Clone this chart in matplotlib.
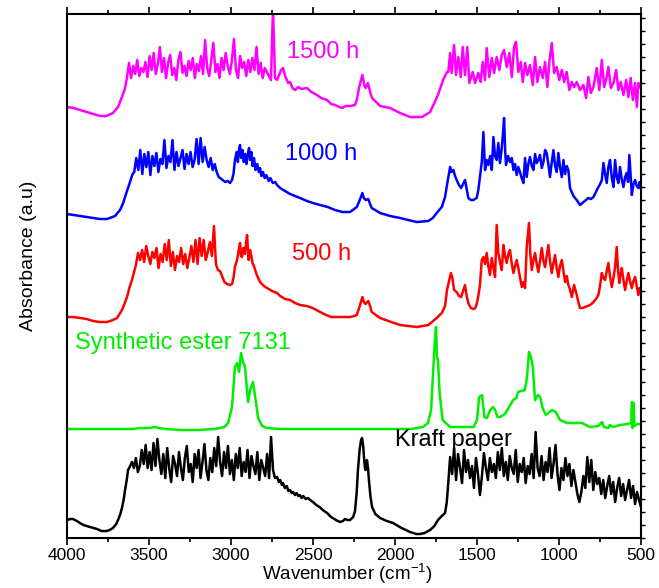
import matplotlib
matplotlib.use("Agg")
import matplotlib.pyplot as plt
import numpy as np
from matplotlib.ticker import MultipleLocator, NullFormatter

# FTIR spectra of kraft paper aged in synthetic ester 7131.
# Each trace: read (wavenumber, absorbance) points plus dense bands over the
# noisy regions (band = start wn, end wn, absorbance values evenly spaced).

KRAFT_POINTS = [
    (4000, 18), (3980, 19), (3963, 19), (3940, 17), (3921, 15), (3900, 13), (3860, 11),
    (3817, 9), (3790, 7), (3760, 7), (3740, 8), (3720, 10), (3700, 14), (3689, 18),
    (3675, 24), (3665, 30), (3655, 38), (3646, 48), (3636, 58), (3628, 68), (3615, 72),
    (2719, 61), (2708, 56), (2700, 58), (2690, 53), (2683, 55), (2672, 50), (2660, 52),
    (2650, 47), (2640, 48), (2630, 45), (2622, 46), (2610, 43), (2600, 45), (2590, 42),
    (2580, 43), (2570, 40), (2560, 42), (2545, 39), (2530, 40), (2518, 38), (2500, 36),
    (2480, 33), (2460, 31), (2440, 28), (2414, 25), (2390, 21), (2360, 18), (2335, 16),
    (2318, 17), (2305, 19), (2290, 18), (2274, 18), (2255, 21), (2244, 27), (2234, 45),
    (2226, 68), (2216, 88), (2207, 98), (2201, 100), (2194, 92), (2189, 80), (2183, 70),
    (2180, 68), (2175, 74), (2171, 78), (2165, 70), (2158, 56), (2150, 42), (2140, 31),
    (2120, 24), (2091, 20), (2050, 17), (2012, 15), (1960, 10), (1908, 6), (1870, 4),
    (1847, 4), (1820, 5), (1786, 8), (1760, 12), (1738, 18), (1715, 22), (1695, 25),
    (1685, 35), (1677, 51),
]
KRAFT_BANDS = [
    (3604, 2732, [76, 70, 80, 66, 72, 88, 74, 93, 70, 86, 68, 95, 72, 99, 78, 64, 84, 60,
                  90, 70, 56, 82, 74, 62, 86, 70, 58, 80, 92, 66, 74, 56, 84, 70, 88, 60,
                  76, 94, 68, 58, 80, 66, 90, 72, 101, 76, 62, 86, 70, 92, 64, 78, 58, 84,
                  70, 90, 62, 76, 66, 88, 60, 82, 72, 64, 86, 58, 78, 70, 62, 84, 60, 101,
                  68, 60]),
    (1664, 500, [81, 64, 90, 58, 84, 70, 55, 88, 66, 78, 60, 72, 50, 80, 64, 43, 62, 85,
                 70, 58, 80, 66, 74, 60, 86, 68, 90, 62, 76, 58, 82, 70, 64, 88, 56, 74,
                 66, 80, 55, 72, 64, 84, 60, 106, 70, 62, 82, 58, 76, 66, 90, 60, 74, 93,
                 64, 48, 70, 58, 80, 62, 74, 52, 68, 56, 44, 36, 46, 62, 50, 81, 56, 78,
                 48, 66, 54, 60, 44, 58, 40, 52, 62, 44, 56, 36, 50, 60, 42, 54, 38, 48,
                 58, 40, 52, 34, 46, 38, 31]),
]

ESTER_POINTS = [
    (4000, 1), (3800, 1), (3600, 1), (3555, 2), (3500, 2), (3463, 3), (3440, 2), (3400, 1),
    (3300, 0), (3200, 0), (3100, 1), (3040, 3), (3018, 7), (2994, 23), (2976, 63),
    (2963, 67), (2951, 58), (2939, 77), (2927, 68), (2915, 63), (2896, 28), (2884, 40),
    (2866, 48), (2850, 30), (2835, 12), (2810, 4), (2780, 2), (2700, 1), (2500, 1),
    (2300, 1), (2100, 1), (1900, 1), (1830, 3), (1799, 7), (1780, 20), (1768, 57),
    (1756, 93), (1750, 103), (1744, 73), (1738, 70), (1728, 37), (1710, 10), (1664, 3),
    (1520, 3), (1500, 10), (1487, 33), (1469, 35), (1455, 13), (1440, 12), (1420, 20),
    (1402, 23), (1390, 20), (1375, 13), (1360, 13), (1330, 16), (1300, 24), (1280, 30),
    (1260, 32), (1250, 38), (1230, 39), (1208, 40), (1195, 53), (1183, 78), (1171, 73),
    (1160, 63), (1146, 30), (1128, 35), (1115, 33), (1100, 22), (1080, 15), (1043, 20),
    (1020, 18), (994, 10), (950, 7), (860, 7), (811, 3), (760, 4), (738, 8), (725, 3),
    (700, 2), (690, 5), (670, 3), (630, 5), (580, 6), (560, 7), (555, 28), (552, 2),
    (545, 27), (540, 4), (520, 6), (500, 6),
]

AGED_500_POINTS = [
    (4000, 9), (3960, 9), (3921, 8), (3880, 7), (3841, 5), (3800, 4), (3756, 4), (3720, 6),
    (3695, 8), (3680, 12), (3665, 16), (3650, 22), (3634, 29), (3620, 38), (3604, 46),
    (3590, 55), (3580, 61),
    (3092, 62), (3080, 56), (3067, 55), (3055, 50), (3040, 44), (3025, 42), (3006, 41),
    (2994, 42), (2985, 48), (2975, 60), (2963, 66), (2955, 74), (2945, 83), (2939, 70),
    (2933, 69), (2925, 78), (2915, 72), (2908, 84), (2902, 91), (2896, 75), (2893, 66),
    (2888, 72), (2884, 76), (2876, 70), (2869, 63), (2860, 60), (2853, 56), (2840, 50),
    (2823, 44), (2800, 40), (2780, 38), (2750, 35), (2719, 33), (2700, 30), (2670, 27),
    (2640, 26), (2610, 23), (2579, 21), (2540, 20), (2518, 19), (2490, 17), (2457, 14),
    (2420, 11), (2390, 9), (2340, 9), (2300, 9), (2274, 9), (2250, 10), (2233, 11),
    (2215, 20), (2199, 29), (2190, 24), (2180, 22), (2163, 25), (2152, 20), (2142, 14),
    (2091, 8), (2040, 5), (1969, 1), (1867, -1), (1797, 1), (1746, 8), (1715, 13),
    (1695, 20), (1683, 36), (1659, 53), (1650, 48), (1640, 36), (1624, 34), (1610, 30),
    (1597, 29), (1585, 35), (1573, 41), (1563, 30), (1553, 23), (1538, 18), (1522, 17),
    (1510, 18), (1502, 22), (1492, 30), (1482, 41),
    (1471, 66), (1461, 69), (1451, 62), (1441, 73), (1431, 60), (1421, 51), (1410, 68),
    (1400, 58), (1390, 49), (1380, 101), (1370, 73), (1360, 64), (1349, 56), (1339, 81),
    (1329, 70), (1319, 63), (1309, 72), (1299, 76), (1288, 62), (1278, 53), (1268, 60),
    (1258, 66), (1248, 58), (1238, 49), (1227, 39), (1217, 44), (1207, 38), (1197, 79),
    (1183, 103), (1175, 72), (1166, 56), (1156, 66), (1146, 73), (1136, 62), (1126, 54),
    (1115, 66), (1105, 78), (1095, 65), (1085, 59), (1075, 70), (1065, 81), (1054, 64),
    (1044, 53), (1034, 63), (1024, 71), (1014, 58), (1004, 49), (994, 60), (983, 66),
    (973, 55), (963, 44), (953, 50), (943, 41), (932, 36), (922, 29), (915, 35), (908, 41),
    (900, 36), (892, 31), (882, 24), (872, 18), (856, 18), (841, 19), (826, 20), (811, 21),
    (795, 23), (780, 26), (770, 28), (760, 31), (750, 40), (739, 53), (729, 48), (719, 46),
    (709, 55), (699, 63), (689, 50), (678, 39), (668, 48), (658, 59), (648, 79), (640, 55),
    (632, 43), (625, 52), (617, 58), (607, 46), (597, 36), (587, 45), (577, 53), (566, 44),
    (556, 38), (546, 45), (536, 49), (526, 40), (516, 31), (508, 38), (500, 34),
]
AGED_500_BANDS = [
    (3567, 3104, [73, 66, 76, 64, 80, 70, 62, 74, 68, 78, 58, 72, 64, 82, 66, 86, 60, 74,
                  56, 70, 64, 78, 62, 72, 58, 68, 80, 64, 86, 62, 88, 70, 86, 66, 74, 84,
                  70, 100]),
]

AGED_1000_POINTS = [
    (4000, 8), (3960, 7), (3921, 6), (3880, 5), (3841, 4), (3800, 3), (3756, 3), (3707, 6),
    (3677, 12), (3660, 18), (3646, 25), (3630, 33), (3616, 40), (3600, 48),
    (3067, 44), (3050, 42), (3035, 40), (3020, 41), (3006, 39), (2994, 42), (2985, 48),
    (2976, 62), (2966, 70), (2958, 60), (2950, 74), (2945, 77), (2938, 64), (2930, 72),
    (2922, 60), (2914, 68), (2906, 58), (2900, 66), (2890, 74), (2884, 62), (2876, 70),
    (2868, 56), (2860, 64), (2850, 52), (2840, 58), (2830, 50), (2823, 54), (2815, 46),
    (2805, 50), (2795, 44), (2785, 47), (2770, 41), (2760, 44), (2745, 39), (2730, 40),
    (2719, 37), (2701, 34), (2670, 31), (2640, 28), (2610, 26), (2579, 24), (2537, 21),
    (2500, 19), (2457, 17), (2410, 15), (2366, 12), (2320, 10), (2290, 10), (2274, 10),
    (2233, 15), (2215, 22), (2199, 29), (2190, 24), (2179, 22), (2163, 23), (2152, 18),
    (2142, 14), (2091, 9), (2030, 6), (1969, 4), (1920, 2), (1867, 0), (1797, 1),
    (1770, 4), (1746, 9), (1715, 15), (1695, 25), (1680, 40), (1664, 55), (1656, 50),
    (1644, 52), (1634, 46), (1624, 42), (1610, 37), (1597, 34), (1585, 38), (1573, 42),
    (1563, 33), (1553, 24), (1538, 22), (1522, 22), (1502, 24), (1492, 32), (1482, 45),
    (1471, 60), (1461, 90), (1451, 52), (1441, 62), (1431, 57), (1420, 66), (1410, 52),
    (1400, 85), (1390, 66), (1380, 62), (1370, 79), (1360, 59), (1349, 74), (1342, 88),
    (1335, 104), (1328, 70), (1323, 57), (1311, 66), (1299, 60), (1288, 64), (1278, 52),
    (1268, 58), (1258, 47), (1248, 55), (1238, 50), (1228, 44), (1217, 39), (1207, 64),
    (1197, 45), (1187, 58), (1177, 65), (1166, 56), (1156, 52), (1146, 68), (1136, 59),
    (1126, 62), (1116, 67), (1105, 54), (1095, 60), (1085, 72), (1075, 69), (1065, 58),
    (1055, 45), (1044, 60), (1034, 72), (1024, 56), (1014, 50), (1004, 69), (994, 55),
    (983, 45), (973, 62), (963, 48), (953, 56), (943, 52), (933, 34), (912, 26), (892, 22),
    (872, 17), (851, 20), (836, 22), (821, 24), (805, 23), (790, 25), (775, 30), (760, 35),
    (749, 38), (739, 42), (729, 59), (719, 48), (709, 39), (699, 55), (689, 62), (678, 44),
    (668, 35), (658, 62), (648, 45), (638, 39), (628, 55), (617, 42), (607, 35), (597, 45),
    (587, 49), (579, 40), (571, 67), (563, 45), (556, 27), (546, 38), (536, 42), (526, 36),
    (516, 34), (508, 40), (500, 33),
]
AGED_1000_BANDS = [
    (3590, 3075, [50, 64, 52, 72, 48, 68, 55, 70, 47, 66, 56, 69, 50, 63, 58, 82, 54, 66,
                  60, 82, 52, 70, 56, 64, 72, 53, 68, 58, 70, 55, 62, 83, 58, 84, 60, 75,
                  62, 55, 64, 52, 58, 50, 45]),
]

AGED_1500_POINTS = [
    (4000, 11), (3960, 10), (3921, 8), (3860, 5), (3799, 2), (3760, 2), (3720, 5),
    (3689, 11), (3665, 21), (3646, 30), (3634, 41),
    (2732, 40), (2719, 38), (2705, 44), (2695, 48), (2683, 50), (2670, 42), (2652, 35),
    (2640, 36), (2625, 30), (2610, 28), (2590, 31), (2570, 29), (2537, 30), (2510, 26),
    (2476, 23), (2450, 20), (2414, 18), (2390, 14), (2366, 13), (2340, 11), (2323, 10),
    (2300, 12), (2274, 12), (2244, 13), (2233, 18), (2220, 30), (2199, 43), (2186, 32),
    (2179, 30), (2165, 35), (2150, 25), (2140, 20), (2091, 12), (2030, 10), (1969, 5),
    (1908, 1), (1835, 1), (1786, 6), (1738, 23), (1707, 38), (1683, 46),
    (1675, 46), (1664, 65), (1654, 45), (1640, 73), (1628, 43), (1614, 61), (1599, 41),
    (1587, 71), (1573, 43), (1559, 71), (1547, 35), (1526, 46), (1512, 35), (1492, 45),
    (1478, 36), (1465, 56), (1451, 38), (1441, 70), (1425, 41), (1410, 60), (1396, 45),
    (1380, 61), (1364, 48), (1349, 63), (1335, 68), (1319, 51), (1303, 65), (1288, 41),
    (1274, 71), (1262, 76), (1248, 46), (1233, 56), (1221, 36), (1207, 55), (1193, 43),
    (1177, 53), (1160, 33), (1146, 61), (1132, 36), (1116, 51), (1099, 40), (1085, 56),
    (1071, 31), (1059, 56), (1044, 75), (1030, 45), (1014, 51), (998, 38), (983, 48),
    (969, 36), (953, 46), (937, 28), (922, 36), (908, 31), (892, 36), (872, 28), (851, 33),
    (835, 20), (821, 41), (806, 25), (790, 31), (770, 50), (754, 28), (739, 58), (725, 31),
    (713, 38), (699, 51), (684, 30), (668, 35), (652, 48), (638, 28), (624, 36), (607, 23),
    (591, 38), (577, 21), (563, 40), (550, 18), (536, 35), (525, 11), (516, 35), (502, 30),
]
AGED_1500_BANDS = [
    (3622, 2744, [55, 40, 52, 44, 58, 42, 50, 46, 56, 41, 62, 48, 65, 44, 54, 71, 46, 60,
                  40, 55, 63, 43, 50, 38, 58, 66, 45, 52, 42, 57, 48, 60, 40, 54, 47, 62,
                  44, 78, 50, 42, 58, 75, 46, 54, 40, 60, 48, 65, 52, 44, 57, 79, 48, 40,
                  62, 50, 56, 42, 58, 46, 60, 48, 71, 44, 55, 40, 50, 46, 42, 38, 110]),
]

LABELS = ["Kraft paper", "Synthetic ester 7131", "500 h", "1000 h", "1500 h"]
COLORS = ["black", "#00ee00", "#ff0000", "#0000ff", "#ff00ff"]
OFFSETS = [0, 108, 212, 316, 420]
LABEL_POS = [(2000, 98), (3951, 195), (2628, 284), (2671, 384), (2659, 486)]


def build_trace(points, bands):
    wn = [float(p[0]) for p in points]
    ab = [float(p[1]) for p in points]
    for start, stop, values in bands:
        wn.extend(np.linspace(start, stop, len(values)))
        ab.extend(values)
    wn = np.asarray(wn)
    ab = np.asarray(ab)
    order = np.argsort(-wn, kind="stable")
    return wn[order], ab[order]


traces = [
    build_trace(KRAFT_POINTS, KRAFT_BANDS),
    build_trace(ESTER_POINTS, []),
    build_trace(AGED_500_POINTS, AGED_500_BANDS),
    build_trace(AGED_1000_POINTS, AGED_1000_BANDS),
    build_trace(AGED_1500_POINTS, AGED_1500_BANDS),
]

plt.rcParams["font.family"] = ["Liberation Sans", "DejaVu Sans"]
plt.rcParams["mathtext.default"] = "regular"

fig = plt.figure(figsize=(6.59, 5.88), dpi=100)
ax = fig.add_axes([0.1017, 0.085, 0.871, 0.8912])

for (wn, ab), color, offset in zip(traces, COLORS, OFFSETS):
    ax.plot(wn, ab + offset, color=color, linewidth=1.8, solid_joinstyle="round")

for label, color, (x, y) in zip(LABELS, COLORS, LABEL_POS):
    ax.text(x, y, label, color=color, fontsize=17, ha="left", va="center")

ax.set_xlim(4000, 500)
ax.set_ylim(0, 524)
ax.xaxis.set_major_locator(MultipleLocator(500))
ax.xaxis.set_minor_locator(MultipleLocator(250))
ax.yaxis.set_major_locator(MultipleLocator(13))
ax.yaxis.set_major_formatter(NullFormatter())
ax.tick_params(axis="x", which="both", direction="out", top=True, labelsize=12.5, pad=2)
ax.tick_params(axis="x", which="major", length=5, width=1.2)
ax.tick_params(axis="x", which="minor", length=3, width=1.2)
ax.tick_params(axis="y", which="both", direction="out", left=False, right=True, length=3, width=1.0)
for spine in ax.spines.values():
    spine.set_linewidth(1.5)

ax.set_xlabel("Wavenumber (cm$^{-1}$)", fontsize=13.5, labelpad=0)
ax.xaxis.set_label_coords(0.488, -0.045)
ax.set_ylabel("Absorbance (a.u)", fontsize=14)
ax.yaxis.set_label_coords(-0.052, 0.538)

fig.savefig("out.png", dpi=100)
